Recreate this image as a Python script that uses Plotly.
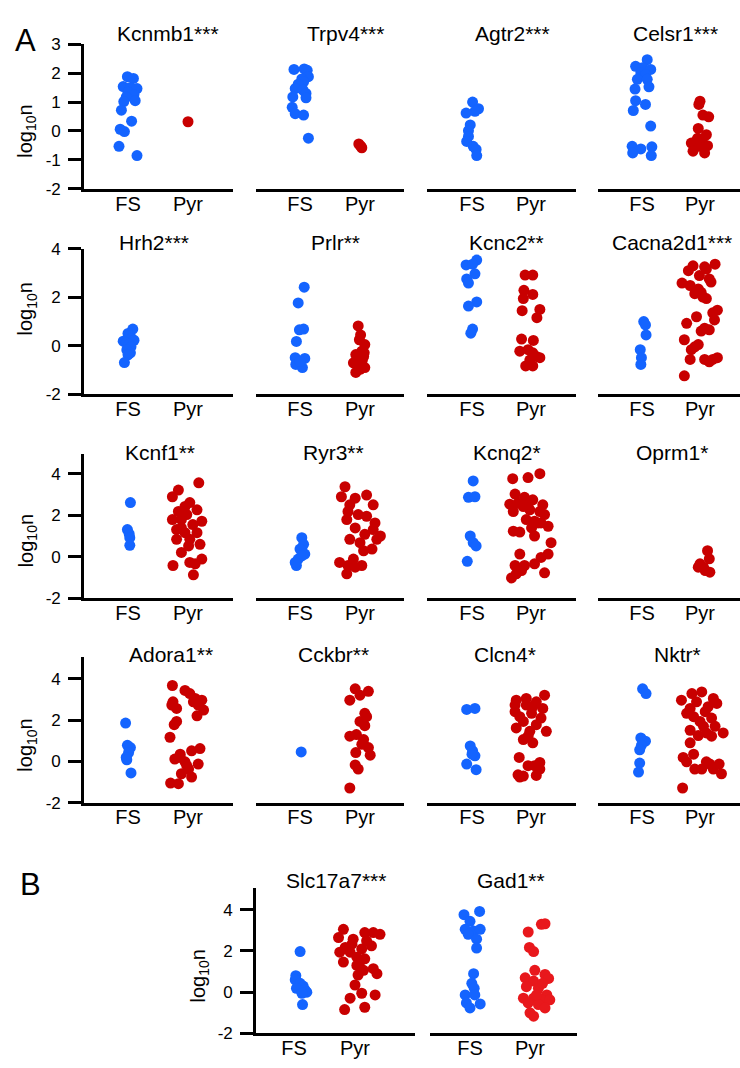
import plotly.graph_objects as go

# ---------------- data (log10 n), FS and Pyr, with horizontal jitter ----------------
categories = ["FS", "Pyr"]

kcnmb1_fs = [1.88, 1.82, 1.54, 1.51, 1.47, 1.34, 1.26, 1.17, 1.02, 1.05, 0.72, 0.34, 0.06, -0.02, -0.53, -0.85]
kcnmb1_fs_dx = [-0.01, 0.09, -0.08, 0.04, 0.15, 0.0, 0.10, -0.03, -0.07, 0.12, -0.11, 0.06, -0.13, -0.06, -0.15, 0.15]
kcnmb1_pyr = [0.32]
kcnmb1_pyr_dx = [0.0]

trpv4_fs = [2.15, 2.13, 2.1, 1.88, 1.8, 1.7, 1.62, 1.47, 1.42, 1.3, 1.18, 1.15, 0.82, 0.6, 0.55, -0.25]
trpv4_fs_dx = [0.07, -0.1, 0.12, 0.14, 0.03, 0.06, -0.03, -0.08, 0.05, 0.1, -0.12, 0.1, -0.13, -0.08, 0.06, 0.14]
trpv4_pyr = [-0.45, -0.52, -0.58]
trpv4_pyr_dx = [-0.02, 0.01, 0.03]

agtr2_fs = [1.0, 0.77, 0.68, 0.62, 0.21, 0.01, -0.19, -0.36, -0.53, -0.64, -0.85]
agtr2_fs_dx = [0.01, 0.11, 0.05, -0.1, -0.03, -0.06, -0.06, -0.09, 0.02, 0.07, 0.08]
agtr2_pyr = []
agtr2_pyr_dx = []

celsr1_fs = [2.47, 2.24, 2.19, 2.13, 2.02, 1.96, 1.79, 1.79, 1.45, 1.53, 1.05, 0.92, 0.71, 0.17, -0.53, -0.62, -0.76, -0.55, -0.85]
celsr1_fs_dx = [0.09, -0.11, 0.01, 0.15, -0.02, 0.06, -0.08, 0.09, -0.12, 0.12, -0.11, 0.06, -0.15, 0.15, -0.17, -0.02, -0.16, 0.17, 0.16]
celsr1_pyr = [1.03, 0.92, 0.55, 0.49, 0.09, -0.13, -0.42, -0.33, -0.42, -0.51, -0.7, -0.76, -0.53, -0.25]
celsr1_pyr_dx = [0.0, -0.02, 0.05, 0.15, -0.03, 0.11, -0.15, -0.06, 0.05, 0.13, -0.12, 0.08, 0.0, -0.04]

hrh2_fs = [0.68, 0.5, 0.42, 0.3, 0.22, 0.18, 0.12, 0.05, -0.05, -0.18, -0.3, -0.38, -0.7]
hrh2_fs_dx = [0.08, 0.0, 0.03, 0.06, 0.1, -0.08, -0.03, 0.02, 0.05, -0.02, 0.04, 0.0, -0.06]
hrh2_pyr = []
hrh2_pyr_dx = []

prlr_fs = [2.41, 1.76, 0.68, 0.65, 0.17, -0.5, -0.53, -0.78, -0.91, -0.65]
prlr_fs_dx = [0.07, -0.03, 0.06, -0.01, -0.06, -0.08, 0.08, -0.07, 0.04, 0.0]
prlr_pyr = [0.81, 0.44, 0.24, 0.04, -0.23, -0.37, -0.45, -0.71, -0.78, -0.91, -1.11, -0.98, -0.3, -0.6]
prlr_pyr_dx = [-0.03, 0.01, -0.01, 0.08, 0.03, -0.07, 0.06, -0.11, -0.03, 0.08, -0.07, 0.0, 0.07, 0.04]

kcnc2_fs = [3.53, 3.33, 3.36, 2.96, 2.75, 2.58, 1.8, 1.63, 0.68, 0.51]
kcnc2_fs_dx = [0.08, -0.1, 0.01, 0.05, -0.09, -0.06, 0.08, -0.06, 0.01, -0.02]
kcnc2_pyr = [2.91, 2.91, 2.28, 2.11, 1.94, 1.49, 1.44, 1.15, 0.27, 0.21, -0.23, -0.17, -0.3, -0.5, -0.84, -0.84, -0.45, -0.6]
kcnc2_pyr_dx = [-0.1, 0.03, -0.12, 0.03, -0.13, 0.15, -0.15, 0.1, -0.16, 0.04, -0.19, -0.05, 0.03, 0.15, -0.09, 0.03, 0.09, -0.02]

cacna2d1_fs = [0.99, 0.85, 0.44, -0.17, -0.5, -0.78]
cacna2d1_fs_dx = [0.03, 0.06, 0.07, -0.03, -0.01, -0.02]
cacna2d1_pyr = [3.36, 3.29, 3.25, 3.09, 2.89, 2.75, 2.58, 2.48, 2.34, 2.2, 1.94, 1.46, 1.19, 1.06, 0.92, 0.72, 0.65,
                0.24, 0.04, -0.17, -0.57, -0.57, -0.57, -0.5, -1.25, 3.16, 2.62, 2.14, 2.0, 1.35, 0.6, -0.05, -0.67]
cacna2d1_pyr_dx = [0.26, -0.12, 0.08, -0.2, -0.01, 0.16, -0.31, -0.17, -0.03, 0.02, 0.11, 0.3, -0.06, 0.25, -0.23, 0.08, 0.16,
                   -0.27, -0.03, -0.15, -0.17, 0.08, 0.22, 0.3, -0.27, 0.11, 0.19, -0.09, 0.05, 0.22, 0.02, -0.09, 0.16]

kcnf1_fs = [2.61, 1.31, 1.1, 0.92, 0.55]
kcnf1_fs_dx = [0.04, -0.01, 0.02, 0.03, 0.03]
kcnf1_pyr = [3.56, 3.21, 2.89, 2.61, 2.18, 2.26, 2.03, 1.79, 1.79, 1.71, 1.55, 1.31, 1.16, 1.16, 0.84, 0.84, 0.6,
             0.21, -0.42, -0.27, -0.11, -0.87, 2.42, 1.39, 0.52, -0.34]
kcnf1_pyr_dx = [0.18, -0.16, -0.26, 0.03, -0.16, 0.15, -0.02, -0.26, -0.11, 0.23, 0.08, -0.19, -0.05, 0.15, -0.19, 0.03, 0.2,
                -0.11, -0.25, 0.03, 0.23, 0.09, -0.05, -0.11, 0.01, 0.12]

ryr3_fs = [0.92, 0.6, 0.37, 0.13, -0.11, -0.42, 0.05, -0.27]
ryr3_fs_dx = [0.03, 0.06, 0.0, 0.08, -0.03, -0.06, 0.03, -0.08]
ryr3_pyr = [3.37, 2.89, 2.82, 2.97, 2.5, 2.18, 2.03, 1.95, 1.79, 1.39, 1.31, 1.08, 0.84, 0.68, 0.84, 0.29, 0.37,
            -0.27, -0.42, -0.42, -0.5, -0.82, -0.11, 1.63, 1.0, 2.5]
ryr3_pyr_dx = [-0.25, -0.31, -0.08, 0.11, 0.22, -0.2, -0.03, 0.11, -0.22, -0.08, 0.22, 0.08, -0.17, 0.0, 0.28, 0.06, 0.2,
               -0.34, -0.2, 0.03, -0.08, -0.22, -0.11, 0.25, 0.34, -0.17]

kcnq2_fs = [3.65, 2.86, 2.89, 1.0, 0.68, 0.52, -0.22]
kcnq2_fs_dx = [0.02, -0.06, 0.05, -0.03, 0.02, 0.07, -0.08]
kcnq2_pyr = [3.76, 3.81, 4.0, 3.02, 2.86, 2.74, 2.53, 2.58, 2.5, 2.5, 2.18, 2.26, 2.03, 1.79, 1.71, 1.63, 1.47, 1.23,
             1.19, 1.0, 0.68, 0.13, 0.13, -0.03, -0.42, -0.42, -0.34, -0.66, -0.77, -1.02, -0.82, 1.63, 1.39, 2.18, 2.42]
kcnq2_pyr_dx = [-0.31, -0.05, 0.15, -0.27, -0.11, 0.03, -0.36, -0.22, -0.05, 0.2, -0.3, -0.02, 0.23, -0.08, 0.06, 0.17,
                0.29, -0.3, -0.19, 0.06, 0.34, -0.19, 0.29, 0.17, -0.27, -0.11, 0.06, -0.16, 0.23, -0.33, -0.25, 0.12,
                0.01, 0.15, -0.13]

oprm1_fs = []
oprm1_fs_dx = []
oprm1_pyr = [0.29, -0.1, -0.34, -0.5, -0.74, -0.66, -0.5]
oprm1_pyr_dx = [0.13, 0.16, 0.0, 0.06, 0.17, 0.09, -0.03]

adora1_fs = [1.86, 0.78, 0.67, 0.43, 0.19, 0.08, -0.56]
adora1_fs_dx = [-0.04, -0.01, 0.04, 0.01, -0.03, -0.02, 0.05]
adora1_pyr = [3.68, 3.44, 3.29, 3.05, 2.89, 2.97, 2.73, 2.57, 2.73, 2.49, 2.21, 1.94, 1.78, 1.17, 0.62, 0.51, 0.35,
              0.11, -0.02, -0.13, -0.37, -0.6, -0.76, -1.05, -1.08, 2.89, -0.21, 0.19]
adora1_pyr_dx = [-0.26, -0.05, 0.03, 0.12, -0.25, 0.23, -0.27, -0.19, 0.17, 0.26, 0.15, -0.19, -0.23, -0.3, 0.2, 0.06,
                 -0.13, -0.22, -0.05, 0.17, 0.01, -0.11, 0.06, -0.29, -0.16, 0.09, -0.02, -0.13]

cckbr_fs = [0.46]
cckbr_fs_dx = [0.02]
cckbr_pyr = [3.52, 3.4, 3.21, 2.97, 2.33, 1.94, 1.73, 1.22, 1.3, 1.06, 0.83, 0.67, 0.43, 0.3, -0.17, -0.37, -1.29, 2.17]
cckbr_pyr_dx = [-0.08, 0.14, 0.0, -0.17, 0.08, 0.0, 0.08, -0.17, -0.06, 0.06, 0.03, 0.14, -0.07, 0.17, -0.08, -0.03, -0.17, 0.11]

clcn4_fs = [2.52, 2.57, 0.75, 0.51, 0.27, -0.13, -0.4, 0.35]
clcn4_fs_dx = [-0.09, 0.05, -0.03, 0.01, 0.05, -0.09, 0.07, 0.0]
clcn4_pyr = [2.97, 3.05, 3.21, 2.89, 2.41, 2.57, 2.33, 2.17, 2.1, 1.62, 1.46, 1.46, 1.06, 0.9, 0.19, -0.05, -0.21,
             -0.71, -0.68, -0.76, -0.37, 2.73, 2.73, 2.65, 1.94, 1.78, 1.22, -0.21, -0.65]
clcn4_pyr_dx = [-0.25, -0.08, 0.23, 0.09, -0.27, 0.2, 0.01, -0.19, 0.17, -0.25, 0.26, -0.02, -0.13, 0.03, -0.2, 0.15,
                -0.05, -0.13, 0.09, -0.19, 0.15, -0.27, -0.08, 0.03, -0.13, 0.09, -0.05, 0.06, -0.22]

nktr_fs = [3.52, 3.29, 1.14, 0.98, 0.78, 0.56, -0.08, -0.52]
nktr_fs_dx = [0.01, 0.07, -0.02, 0.06, -0.01, -0.04, -0.04, -0.06]
nktr_pyr = [3.37, 3.29, 2.97, 3.05, 2.89, 2.81, 2.57, 2.41, 2.33, 2.1, 1.94, 1.7, 1.51, 1.38, 1.38, 1.25, 1.22, 0.9,
            0.35, 0.19, -0.02, -0.02, -0.37, -0.37, -0.37, -0.13, -0.6, -1.29, 2.65, 2.17, 1.7, -0.13]
nktr_pyr_dx = [0.03, -0.14, -0.32, 0.23, -0.06, 0.29, -0.17, 0.09, -0.23, 0.2, 0.0, 0.26, -0.17, 0.11, 0.4, -0.03, 0.2,
               -0.17, -0.11, -0.29, -0.23, 0.11, -0.09, 0.03, 0.23, 0.33, 0.37, -0.3, 0.14, -0.11, 0.06, 0.17]

slc17a7_fs = [1.97, 0.8, 0.6, 0.43, 0.3, 0.19, 0.11, 0.0, -0.05, -0.6]
slc17a7_fs_dx = [0.1, 0.03, 0.02, 0.1, 0.15, 0.04, 0.18, 0.21, 0.13, 0.14]
slc17a7_pyr = [3.05, 2.65, 2.89, 2.89, 2.81, 2.33, 2.17, 2.1, 2.25, 1.94, 1.94, 1.7, 1.62, 1.46, 1.3, 1.06, 0.9, 0.83,
               1.14, 0.35, -0.05, -0.13, -0.29, -0.73, -0.84, 2.49, 2.57, 1.46]
slc17a7_pyr_dx = [-0.19, -0.27, 0.16, 0.3, 0.41, -0.05, -0.16, 0.11, 0.27, -0.25, -0.08, 0.03, 0.16, -0.19, 0.03, 0.14,
                  0.36, 0.05, 0.3, 0.0, 0.11, 0.33, -0.08, 0.16, -0.17, 0.19, -0.03, 0.08]

gad1_fs = [3.92, 3.76, 3.44, 3.05, 2.97, 3.05, 2.81, 2.57, 2.14, 0.9, 0.43, 0.19, -0.13, -0.13, -0.52, -0.57, -0.76]
gad1_fs_dx = [0.16, -0.1, 0.0, -0.08, 0.06, 0.17, -0.03, 0.11, 0.11, 0.06, 0.03, 0.07, -0.08, 0.08, -0.06, 0.17, 0.0]
gad1_pyr = [3.29, 3.32, 2.92, 2.17, 1.97, 1.06, 0.86, 0.7, 0.67, 0.54, 0.27, 0.19, -0.13, -0.29, -0.29, -0.37, -0.37,
            -0.52, -0.6, -0.76, -1.0, -1.16, -0.13, 0.43]
gad1_pyr_dx = [0.19, 0.25, -0.03, -0.01, 0.06, 0.08, 0.25, -0.08, 0.31, 0.06, -0.06, 0.14, 0.28, -0.11, 0.06, 0.19, 0.33,
               -0.03, 0.14, 0.25, 0.0, 0.06, 0.11, 0.21]

titles = ["Kcnmb1***", "Trpv4***", "Agtr2***", "Celsr1***",
          "Hrh2***", "Prlr**", "Kcnc2**", "Cacna2d1***",
          "Kcnf1**", "Ryr3**", "Kcnq2*", "Oprm1*",
          "Adora1**", "Cckbr**", "Clcn4*", "Nktr*",
          "Slc17a7***", "Gad1**"]

ytick_row1 = [-2, -1, 0, 1, 2, 3]
ytick_rows = [-2, 0, 2, 4]

# ---------------- styling / layout ----------------
W, H = 740, 1068
FONT = "Liberation Sans, Arial, sans-serif"
BLUE = "rgb(20,100,255)"
RED = "rgb(200,0,0)"
RED_B = "rgb(232,24,28)"
LW = 2.6
MS = 11

# column geometry (px): domain left, domain right, FS position, Pyr position
cols_a = [(84, 233, 128, 188), (256, 404, 300, 360), (427, 576, 472, 531), (598, 740, 642, 700)]
cols_b = [(256, 415, 294, 355), (430, 577, 470, 530)]
# row geometry (px): top, bottom, y-range, ticks
rows = [(36, 183, (-2, 3), ytick_row1),
        (244, 392, (-2, 4), ytick_rows),
        (453, 600, (-2, 4.95), ytick_rows),
        (660, 808, (-2, 5.05), ytick_rows),
        (895, 1043, (-2, 5.05), ytick_rows)]
title_y = [25, 238, 452, 657, 887]
title_x = [[168, 345, 512, 675], [154, 335, 506, 672], [160, 333, 507, 672], [171, 333, 505, 677], [336, 511]]
ylab_y = [125, 306, 542, 750, 984]

panels = [
    (kcnmb1_fs, kcnmb1_fs_dx, kcnmb1_pyr, kcnmb1_pyr_dx),
    (trpv4_fs, trpv4_fs_dx, trpv4_pyr, trpv4_pyr_dx),
    (agtr2_fs, agtr2_fs_dx, agtr2_pyr, agtr2_pyr_dx),
    (celsr1_fs, celsr1_fs_dx, celsr1_pyr, celsr1_pyr_dx),
    (hrh2_fs, hrh2_fs_dx, hrh2_pyr, hrh2_pyr_dx),
    (prlr_fs, prlr_fs_dx, prlr_pyr, prlr_pyr_dx),
    (kcnc2_fs, kcnc2_fs_dx, kcnc2_pyr, kcnc2_pyr_dx),
    (cacna2d1_fs, cacna2d1_fs_dx, cacna2d1_pyr, cacna2d1_pyr_dx),
    (kcnf1_fs, kcnf1_fs_dx, kcnf1_pyr, kcnf1_pyr_dx),
    (ryr3_fs, ryr3_fs_dx, ryr3_pyr, ryr3_pyr_dx),
    (kcnq2_fs, kcnq2_fs_dx, kcnq2_pyr, kcnq2_pyr_dx),
    (oprm1_fs, oprm1_fs_dx, oprm1_pyr, oprm1_pyr_dx),
    (adora1_fs, adora1_fs_dx, adora1_pyr, adora1_pyr_dx),
    (cckbr_fs, cckbr_fs_dx, cckbr_pyr, cckbr_pyr_dx),
    (clcn4_fs, clcn4_fs_dx, clcn4_pyr, clcn4_pyr_dx),
    (nktr_fs, nktr_fs_dx, nktr_pyr, nktr_pyr_dx),
    (slc17a7_fs, slc17a7_fs_dx, slc17a7_pyr, slc17a7_pyr_dx),
    (gad1_fs, gad1_fs_dx, gad1_pyr, gad1_pyr_dx),
]

fig = go.Figure()
layout = dict(width=W, height=H, autosize=False, margin=dict(l=0, r=0, t=0, b=0, pad=0),
              paper_bgcolor="white", plot_bgcolor="white", showlegend=False,
              font=dict(family=FONT, color="black"))
annotations = []

for i, (fs, fs_dx, pyr, pyr_dx) in enumerate(panels):
    if i < 16:
        r, c = divmod(i, 4)
        d0, d1, pfs, ppyr = cols_a[c]
    else:
        r, c = 4, i - 16
        d0, d1, pfs, ppyr = cols_b[c]
    top, bot, yr, yt = rows[r]
    unit = ppyr - pfs
    xr = [(d0 - pfs) / unit, (d1 - pfs) / unit]
    n = i + 1
    xa = "x" if n == 1 else f"x{n}"
    ya = "y" if n == 1 else f"y{n}"
    pyr_color = RED_B if i == 17 else RED

    fig.add_trace(go.Scatter(x=[0 + d for d in fs_dx], y=fs, mode="markers", xaxis=xa, yaxis=ya,
                             marker=dict(size=MS, color=BLUE, line=dict(width=0)), cliponaxis=False,
                             name="FS", hoverinfo="y"))
    fig.add_trace(go.Scatter(x=[1 + d for d in pyr_dx], y=pyr, mode="markers", xaxis=xa, yaxis=ya,
                             marker=dict(size=MS, color=pyr_color, line=dict(width=0)), cliponaxis=False,
                             name="Pyr", hoverinfo="y"))

    first_col = (c == 0)
    layout["xaxis" if n == 1 else f"xaxis{n}"] = dict(
        domain=[d0 / W, d1 / W], range=xr, anchor=ya, showgrid=False, zeroline=False,
        showline=True, linecolor="black", linewidth=LW, ticks="",
        tickmode="array", tickvals=[0, 1], ticktext=categories, ticklabelstandoff=-5,
        tickfont=dict(size=20, family=FONT, color="black"), fixedrange=True)
    layout["yaxis" if n == 1 else f"yaxis{n}"] = dict(
        domain=[1 - bot / H, 1 - top / H], range=list(yr), anchor=xa, showgrid=False, zeroline=False,
        showline=first_col, linecolor="black", linewidth=LW,
        ticks="outside" if first_col else "", ticklen=13, tickwidth=LW, tickcolor="black",
        tickmode="array", tickvals=yt, ticktext=[str(v) for v in yt],
        showticklabels=first_col, ticklabelstandoff=4,
        tickfont=dict(size=17, family=FONT, color="black"), fixedrange=True)

    annotations.append(dict(text=titles[i], x=title_x[r][c] / W, y=1 - title_y[r] / H,
                            xref="paper", yref="paper", showarrow=False, xanchor="center", yanchor="middle",
                            font=dict(size=21, family=FONT, color="black")))
    if first_col:
        annotations.append(dict(text="log<sub>10</sub>n", x=(d0 - 57) / W, y=1 - ylab_y[r] / H,
                                xref="paper", yref="paper", showarrow=False, textangle=-90,
                                xanchor="center", yanchor="middle",
                                font=dict(size=20, family=FONT, color="black")))

annotations.append(dict(text="A", x=25 / W, y=1 - 32 / H, xref="paper", yref="paper", showarrow=False,
                        xanchor="center", yanchor="middle", font=dict(size=31, family=FONT, color="black")))
annotations.append(dict(text="B", x=30 / W, y=1 - 891 / H, xref="paper", yref="paper", showarrow=False,
                        xanchor="center", yanchor="middle", font=dict(size=31, family=FONT, color="black")))

layout["annotations"] = annotations
fig.update_layout(**layout)
fig.write_html("out.html", config={"displayModeBar": False},
               post_script="document.body.style.margin='0px';document.body.style.padding='0px';"
                           "document.documentElement.style.overflow='hidden';")
